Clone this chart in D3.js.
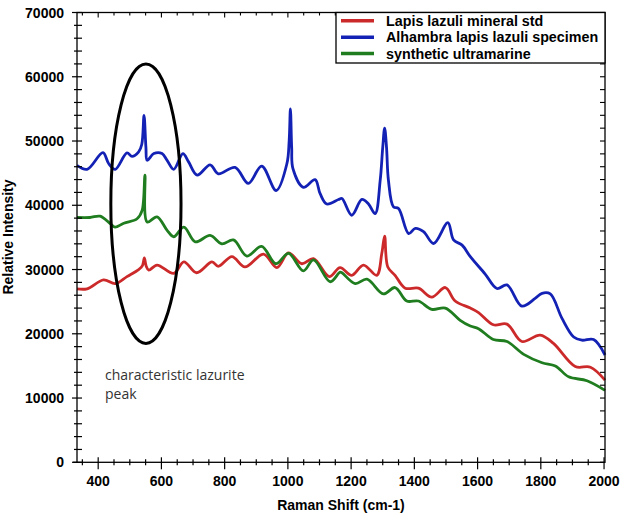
<!DOCTYPE html>
<html><head><meta charset="utf-8">
<script src="https://cdn.jsdelivr.net/npm/d3@7"></script>
<style>body{margin:0;background:#fff}</style>
</head><body>
<svg id="c" width="624" height="517"></svg>
<script>
const seriesNames = ["Lapis lazuli mineral std","Alhambra lapis lazuli specimen","synthetic ultramarine"];
const seriesColors = ["#cc2a2a","#1322b4","#1f7d1f"];

const redX = [333,365,417,454,491,528,540,546,552,560,586,639,671,711,760,780,823,864,923,965,1002,1044,1081,1131,1165,1202,1239,1281,1297,1306,1316,1339,1371,1413,1455,1498,1529,1577,1603,1650,1693,1740,1798,1840,1909,1957,2003];
const redY = [27000,27000,28400,27800,28900,30000,30600,31800,30500,29900,30700,29400,31200,29500,31200,30500,32000,30400,32400,30300,32600,30900,31700,28900,30300,29100,30700,29100,32500,35200,30400,29100,27100,27100,25700,27200,25100,24000,23300,21400,21500,18800,19800,18500,14900,14800,12800];

const blueX = [333,365,415,433,454,491,507,528,538,545,551,555,576,602,618,639,668,686,713,754,780,833,875,917,963,997,1004,1008,1012,1016,1049,1086,1102,1123,1160,1171,1202,1234,1255,1276,1292,1300,1306,1312,1318,1334,1350,1382,1403,1429,1461,1506,1524,1551,1577,1624,1661,1693,1740,1782,1804,1830,1867,1904,1930,1967,2003];
const blueY = [46200,45600,48200,46500,45600,48150,47600,48300,49500,54000,49000,47000,48050,48050,47000,45600,48050,46750,44700,46300,44900,45900,43400,46100,42300,46500,50000,55000,49000,45700,42800,44000,41800,40200,40900,41050,38450,40900,40200,38700,43900,49000,52000,49000,43900,39750,39500,35600,36400,35900,34050,37300,34600,33800,32000,29300,27050,27600,24300,25500,26300,26200,22400,19500,19000,19100,16700];

const greenX = [333,374,406,437,453,481,523,539,548,555,586,618,639,671,707,754,791,828,870,917,962,1002,1049,1081,1134,1165,1171,1213,1250,1302,1339,1376,1413,1455,1498,1545,1577,1603,1650,1693,1746,1804,1846,1888,1946,2003];
const greenY = [38100,38100,38300,37200,36600,37200,37900,39200,44700,37400,38200,36100,35100,36600,34300,35300,34000,34600,32100,33600,30900,32500,29800,31500,28100,29600,29500,27800,28500,26200,27200,25100,25100,23800,24000,22100,21200,20800,19100,18800,16800,15500,15000,13300,12700,11200];

const xTicks = [400,600,800,1000,1200,1400,1600,1800,2000];
const yTicks = [0,10000,20000,30000,40000,50000,60000,70000];

const svg = d3.select("#c");
const L = 77, R = 605, T = 12.5, B = 462.3;
const x = d3.scaleLinear().domain([333, 2003]).range([L, R]);
const y = d3.scaleLinear().domain([0, 70000]).range([B, T]);
const font = "'Liberation Sans', Arial, sans-serif";

// data lines
const data = [[redX,redY],[blueX,blueY],[greenX,greenY]];
const line = d3.line().x(d=>x(d[0])).y(d=>y(d[1])).curve(d3.curveCatmullRom.alpha(0.5));
[1,0,2].forEach(i=>{
  const pts = data[i][0].map((v,k)=>[v,data[i][1][k]]);
  svg.append("path").attr("d", line(pts)).attr("fill","none")
    .attr("stroke", seriesColors[i]).attr("stroke-width",2.8).attr("stroke-linejoin","round");
});

// frame
svg.append("rect").attr("x",L).attr("y",T).attr("width",R-L).attr("height",B-T)
  .attr("fill","none").attr("stroke","#000").attr("stroke-width",1.3);
svg.append("line").attr("x1",L-4).attr("x2",L).attr("y1",B).attr("y2",B).attr("stroke","#000").attr("stroke-width",1.3);

// x ticks
const xMinor = d3.range(350, 2001, 50);
xMinor.forEach(v=>{
  const major = v % 200 === 0;
  svg.append("line").attr("x1",x(v)).attr("x2",x(v))
    .attr("y1", major ? B-5 : B-3).attr("y2", major ? B+7 : B+3)
    .attr("stroke","#000").attr("stroke-width",1.2);
  svg.append("line").attr("x1",x(v)).attr("x2",x(v))
    .attr("y1", T).attr("y2", T + (major?5:3))
    .attr("stroke","#000").attr("stroke-width",1.1);
});
// y ticks
d3.range(0, 70001, 2000).forEach(v=>{
  const major = v % 10000 === 0;
  svg.append("line").attr("x1", L-(major?5:3)).attr("x2", L+5)
    .attr("y1", y(v)).attr("y2", y(v)).attr("stroke","#000").attr("stroke-width",1.2);
  svg.append("line").attr("x1", R-5).attr("x2", R)
    .attr("y1", y(v)).attr("y2", y(v)).attr("stroke","#000").attr("stroke-width",1.1);
});

// tick labels
svg.selectAll(".xl").data(xTicks).enter().append("text")
  .attr("x", d=>x(d)).attr("y", 486).attr("text-anchor","middle")
  .attr("font-family",font).attr("font-weight","bold").attr("font-size",14).text(d=>d);
svg.selectAll(".yl").data(yTicks).enter().append("text")
  .attr("x", 64).attr("y", d=>y(d)+5).attr("text-anchor","end")
  .attr("font-family",font).attr("font-weight","bold").attr("font-size",14).text(d=>d);

// axis titles
svg.append("text").attr("x", 341).attr("y", 510).attr("text-anchor","middle")
  .attr("font-family",font).attr("font-weight","bold").attr("font-size",14).text("Raman Shift (cm-1)");
svg.append("text").attr("transform","translate(13,237) rotate(-90)").attr("text-anchor","middle")
  .attr("font-family",font).attr("font-weight","bold").attr("font-size",14).text("Relative Intensity");

// legend
const lgX = 336, lgY = T, lgB = 63;
svg.append("rect").attr("x",lgX).attr("y",lgY).attr("width",R-lgX).attr("height",lgB-lgY)
  .attr("fill","#fff").attr("stroke","#000").attr("stroke-width",1.3);
const rowsY = [20.7, 37.3, 53.5];
seriesNames.forEach((n,i)=>{
  svg.append("line").attr("x1",341).attr("x2",374).attr("y1",rowsY[i]).attr("y2",rowsY[i])
    .attr("stroke",seriesColors[i]).attr("stroke-width",3.5);
  svg.append("text").attr("x",386).attr("y",rowsY[i]+5).attr("font-family",font)
    .attr("font-weight","bold").attr("font-size",14.3).text(n);
});

// ellipse annotation
const eL = 440, eR = 662, eTop = 62000, eBot = 18500;
svg.append("ellipse").attr("cx",(x(eL)+x(eR))/2).attr("cy",(y(eTop)+y(eBot))/2)
  .attr("rx",(x(eR)-x(eL))/2).attr("ry",(y(eBot)-y(eTop))/2)
  .attr("fill","none").attr("stroke","#000").attr("stroke-width",3);

svg.append("text").attr("x",105).attr("y",380).attr("font-family","'Open Sans', sans-serif")
  .attr("font-size",14).attr("fill","#333").text("characteristic lazurite");
svg.append("text").attr("x",105).attr("y",399).attr("font-family","'Open Sans', sans-serif")
  .attr("font-size",14).attr("fill","#333").text("peak");
</script>
</body></html>
